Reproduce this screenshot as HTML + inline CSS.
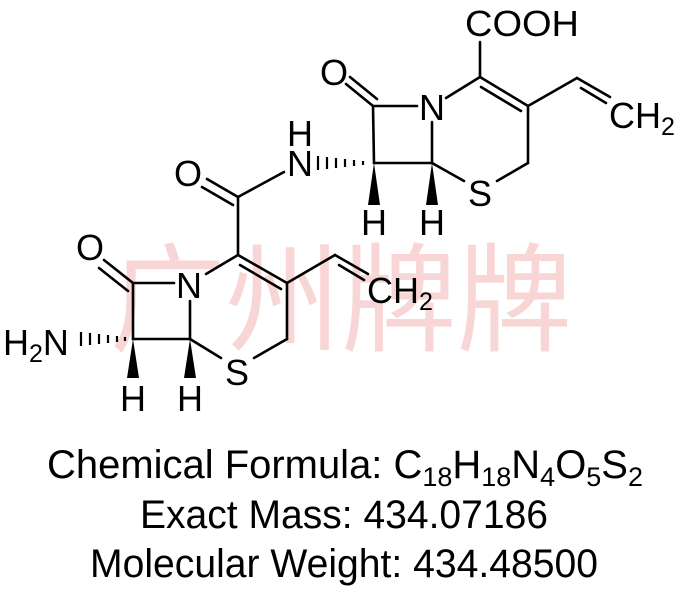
<!DOCTYPE html>
<html><head><meta charset="utf-8"><style>
html,body{margin:0;padding:0;background:#fff;}
svg{display:block;}
text{font-family:"Liberation Sans",Arial,sans-serif;fill:#000;}
</style></head><body>
<svg width="686" height="598" viewBox="0 0 686 598" xmlns="http://www.w3.org/2000/svg">
<text x="110" y="342" font-size="118" style="font-family:'Noto Sans CJK SC','WenQuanYi Zen Hei',sans-serif;fill:#f9d6d6" textLength="462" lengthAdjust="spacingAndGlyphs">广州牌牌</text>
<g stroke="#000" stroke-width="2.6" fill="none" stroke-linecap="round">
<line x1="373" y1="106" x2="417" y2="106"/>
<line x1="446" y1="98" x2="480" y2="77"/>
<line x1="480" y1="77" x2="528" y2="106"/>
<line x1="481" y1="87" x2="521" y2="111"/>
<line x1="480" y1="77" x2="480" y2="42"/>
<line x1="528" y1="106" x2="577" y2="78"/>
<line x1="577" y1="78" x2="610" y2="97"/>
<line x1="581" y1="88" x2="606" y2="103"/>
<line x1="528" y1="106" x2="528" y2="163"/>
<line x1="528" y1="163" x2="497" y2="181"/>
<line x1="464" y1="181" x2="432" y2="163"/>
<line x1="432" y1="163" x2="432" y2="122"/>
<line x1="432" y1="163" x2="374" y2="163"/>
<line x1="374" y1="163" x2="373" y2="106"/>
<line x1="373" y1="106" x2="346" y2="84"/>
<line x1="377" y1="99" x2="350" y2="77"/>
<line x1="238" y1="197" x2="284" y2="172"/>
<line x1="238" y1="197" x2="207" y2="179"/>
<line x1="233" y1="205" x2="202" y2="187"/>
<line x1="238" y1="197" x2="238" y2="255"/>
<line x1="238" y1="255" x2="206" y2="274"/>
<line x1="238" y1="255" x2="287" y2="283"/>
<line x1="240" y1="265" x2="281" y2="289"/>
<line x1="287" y1="283" x2="335" y2="255"/>
<line x1="335" y1="255" x2="368" y2="274"/>
<line x1="339" y1="265" x2="364" y2="280"/>
<line x1="287" y1="283" x2="287" y2="339"/>
<line x1="287" y1="339" x2="254" y2="358"/>
<line x1="221" y1="358" x2="190" y2="339"/>
<line x1="190" y1="339" x2="190" y2="301"/>
<line x1="190" y1="339" x2="133" y2="339"/>
<line x1="133" y1="339" x2="133" y2="283"/>
<line x1="133" y1="283" x2="174" y2="283"/>
<line x1="133" y1="283" x2="104" y2="260"/>
<line x1="128" y1="291" x2="99" y2="268"/>
</g>
<g stroke="#000" stroke-width="2.2">
<line x1="318" y1="156" x2="318" y2="170"/>
<line x1="327" y1="157" x2="327" y2="169"/>
<line x1="336" y1="158" x2="336" y2="168"/>
<line x1="345" y1="159" x2="345" y2="167"/>
<line x1="354" y1="160" x2="354" y2="166"/>
<line x1="363" y1="161" x2="363" y2="165"/>
<line x1="81" y1="332" x2="81" y2="346"/>
<line x1="90" y1="333" x2="90" y2="345"/>
<line x1="99" y1="334" x2="99" y2="344"/>
<line x1="108" y1="335" x2="108" y2="343"/>
<line x1="117" y1="336" x2="117" y2="342"/>
<line x1="125" y1="337" x2="125" y2="341"/>
</g>
<g fill="#000">
<polygon points="374,163 368,205 380,205"/>
<polygon points="432,163 426,205 438,205"/>
<polygon points="133,339 127,378 139,378"/>
<polygon points="190,339 184,378 196,378"/>
</g>
<g font-size="36" text-anchor="middle">
<text x="522" y="36" textLength="114" lengthAdjust="spacingAndGlyphs">COOH</text>
<text x="334" y="85">O</text>
<text x="432" y="120">N</text>
<text x="480" y="206">S</text>
<text x="300" y="146">H</text>
<text x="300" y="176">N</text>
<text x="374" y="235">H</text>
<text x="432" y="235">H</text>
<text x="188" y="186">O</text>
<text x="90" y="260">O</text>
<text x="189" y="298">N</text>
<text x="237" y="385">S</text>
<text x="133" y="411">H</text>
<text x="190" y="411">H</text>
</g>
<g font-size="36">
<text x="609" y="128">CH<tspan font-size="25" dy="7">2</tspan></text>
<text x="367" y="303">CH<tspan font-size="25" dy="7">2</tspan></text>
<text x="3" y="355">H<tspan font-size="25" dy="7">2</tspan><tspan dy="-7">N</tspan></text>
</g>
<g font-size="40">
<text x="47" y="478" textLength="596" lengthAdjust="spacingAndGlyphs">Chemical Formula: C<tspan font-size="27" dy="8">18</tspan><tspan dy="-8">H</tspan><tspan font-size="27" dy="8">18</tspan><tspan dy="-8">N</tspan><tspan font-size="27" dy="8">4</tspan><tspan dy="-8">O</tspan><tspan font-size="27" dy="8">5</tspan><tspan dy="-8">S</tspan><tspan font-size="27" dy="8">2</tspan></text>
<text x="140" y="528" textLength="408" lengthAdjust="spacingAndGlyphs">Exact Mass: 434.07186</text>
<text x="90" y="577" textLength="508" lengthAdjust="spacingAndGlyphs">Molecular Weight: 434.48500</text>
</g>
</svg>
</body></html>
